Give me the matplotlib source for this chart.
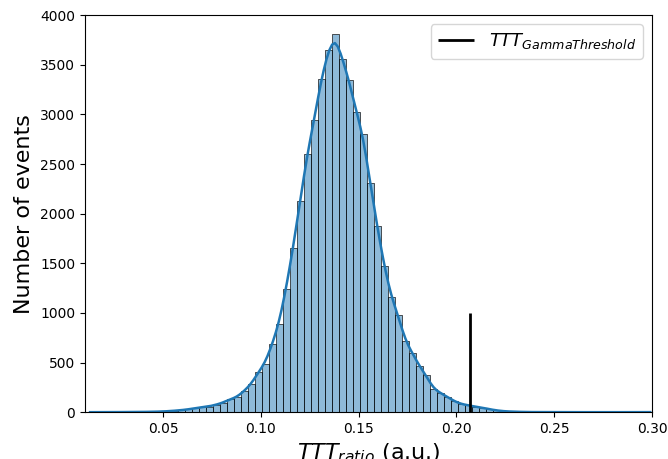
import numpy as np
import matplotlib
matplotlib.use('Agg')
import matplotlib.pyplot as plt
import seaborn as sns

# histogram: bin width and left edge of the peak bin
BIN_WIDTH = 0.00358
PEAK_EDGE = 0.1362

# counts from k=-35 (leftmost bin) up to k=45, k=0 is the peak bin
counts_left = [0, 0, 0, 1, 1, 1, 2, 2, 3, 4, 6, 9, 14, 20, 28, 40, 52, 57, 75, 96,
               131, 150, 215, 279, 400, 490, 682, 893, 1246, 1655, 2126, 2600, 2942,
               3352, 3647]
counts_right = [3815, 3563, 3345, 3026, 2801, 2304, 1874, 1474, 1159, 980, 715, 601,
                467, 370, 235, 195, 155, 111, 81, 70, 55, 47, 30, 18, 10, 6, 4, 2, 1,
                1, 1, 0, 1, 0, 0, 0, 0, 1, 0, 0, 0, 0, 0, 0, 0, 1]

threshold = 0.2068
threshold_height = 1000


def make_plot():
    counts = np.array(counts_left + counts_right, dtype=float)
    k = np.arange(-len(counts_left), len(counts_right))
    left = PEAK_EDGE + k * BIN_WIDTH
    centers = left + BIN_WIDTH / 2
    lo, hi = left[0], left[-1] + BIN_WIDTH

    # weighted kde uses the effective sample size, rescale bandwidth to the event count
    n_events = counts.sum()
    n_eff = counts.sum() ** 2 / (counts ** 2).sum()
    bw_adj = (n_events / n_eff) ** (-0.2)

    fig = plt.figure(figsize=(6.68, 4.59), dpi=100)
    ax = fig.add_axes([0.127, 0.102, 0.849, 0.865])

    sns.histplot(x=centers, weights=counts, bins=len(counts), binrange=(lo, hi),
                 kde=True, kde_kws={'bw_adjust': bw_adj}, line_kws={'lw': 1.8}, ax=ax)
    ax.vlines(threshold, 0, threshold_height, color='black', lw=2,
              label=r'$TTT_{GammaThreshold}$')

    ax.set_xlim(0.01, 0.30)
    ax.set_ylim(0, 4000)
    ax.set_xticks([0.05, 0.10, 0.15, 0.20, 0.25, 0.30])
    ax.set_xticklabels(['0.05', '0.10', '0.15', '0.20', '0.25', '0.30'])
    ax.set_ylabel('Number of events', fontsize=16)
    ax.set_xlabel(r'$TTT_{ratio}$ (a.u.)', fontsize=16)
    ax.legend(loc='upper right', fontsize=13)

    fig.savefig('out.png', dpi=100)


if __name__ == "__main__":
    make_plot()
